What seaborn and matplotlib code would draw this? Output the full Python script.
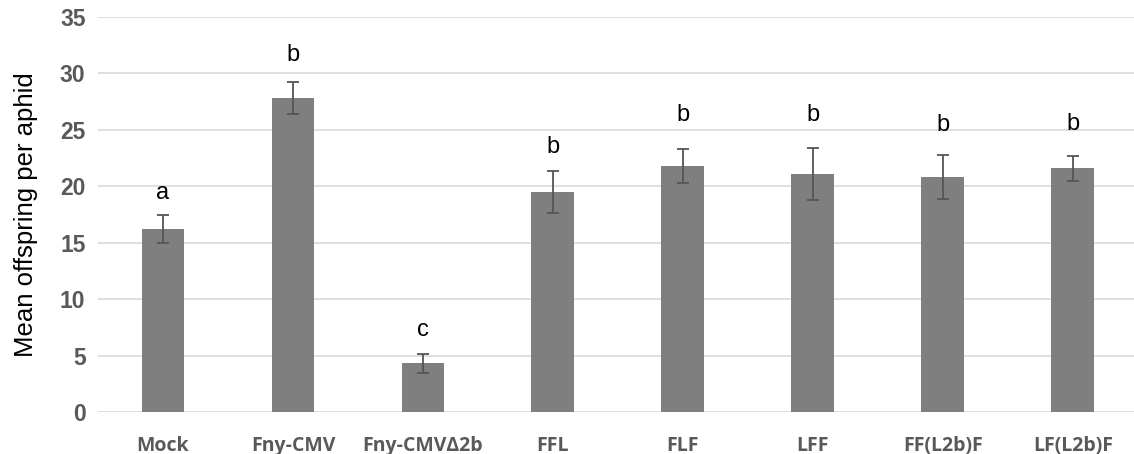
import matplotlib
matplotlib.use("Agg")
import matplotlib.pyplot as plt
import seaborn as sns
import pandas as pd
import numpy as np

categories = ["Mock", "Fny-CMV", "Fny-CMVΔ2b", "FFL", "FLF", "LFF", "FF(L2b)F", "LF(L2b)F"]
means = [16.2, 27.8, 4.3, 19.5, 21.8, 21.1, 20.85, 21.6]
errors = [1.25, 1.4, 0.85, 1.85, 1.5, 2.3, 1.95, 1.1]
letters = ["a", "b", "c", "b", "b", "b", "b", "b"]
letter_y = [19.4, 31.6, 7.3, 23.5, 26.3, 26.3, 25.4, 25.5]
yticks = [0, 5, 10, 15, 20, 25, 30, 35]

sns.set_style("white")
plt.rcParams['font.family'] = ['Liberation Sans', 'DejaVu Sans']

df = pd.DataFrame({"cat": categories, "mean": means})

fig = plt.figure(figsize=(11.34, 4.54), dpi=100)
ax = fig.add_axes([0.0864, 0.0925, 1 - 0.0864, 0.9626 - 0.0925])

sns.barplot(data=df, x="cat", y="mean", order=categories, color="#7f7f7f",
            saturation=1, width=0.33, errorbar=None, ax=ax, zorder=3)
for p in ax.patches:
    p.set_edgecolor("none")

xs = np.arange(len(categories))
ax.errorbar(xs, means, yerr=errors, fmt="none", ecolor="#555555",
            elinewidth=1.3, capsize=4, capthick=1.3, zorder=4)

for x, t, yv in zip(xs, letters, letter_y):
    ax.text(x, yv, t, ha="center", va="center", fontsize=17, color="black",
            family=['Liberation Sans', 'DejaVu Sans'])

ax.set_ylim(0, 35)
ax.set_xlim(-0.5, 7.47)
ax.set_yticks(yticks)
ax.yaxis.grid(True, color="#d9d9d9", linewidth=1.2, zorder=0)
ax.set_axisbelow(True)
for s in ax.spines.values():
    s.set_visible(False)

ax.tick_params(axis="both", length=0)
ax.tick_params(axis="y", pad=9)
ax.tick_params(axis="x", pad=17)
for lab in ax.get_yticklabels():
    lab.set_fontfamily(['Liberation Sans', 'DejaVu Sans'])
    lab.set_fontweight("bold")
    lab.set_fontsize(16.5)
    lab.set_color("#595959")
for lab in ax.get_xticklabels():
    lab.set_fontfamily(['Open Sans', 'DejaVu Sans'])
    lab.set_fontweight("bold")
    lab.set_fontsize(14)
    lab.set_color("#595959")

ax.set_xlabel("")
ax.set_ylabel("Mean offspring per aphid", fontsize=18.5, color="black", labelpad=16)

fig.savefig("out.png", dpi=100)
